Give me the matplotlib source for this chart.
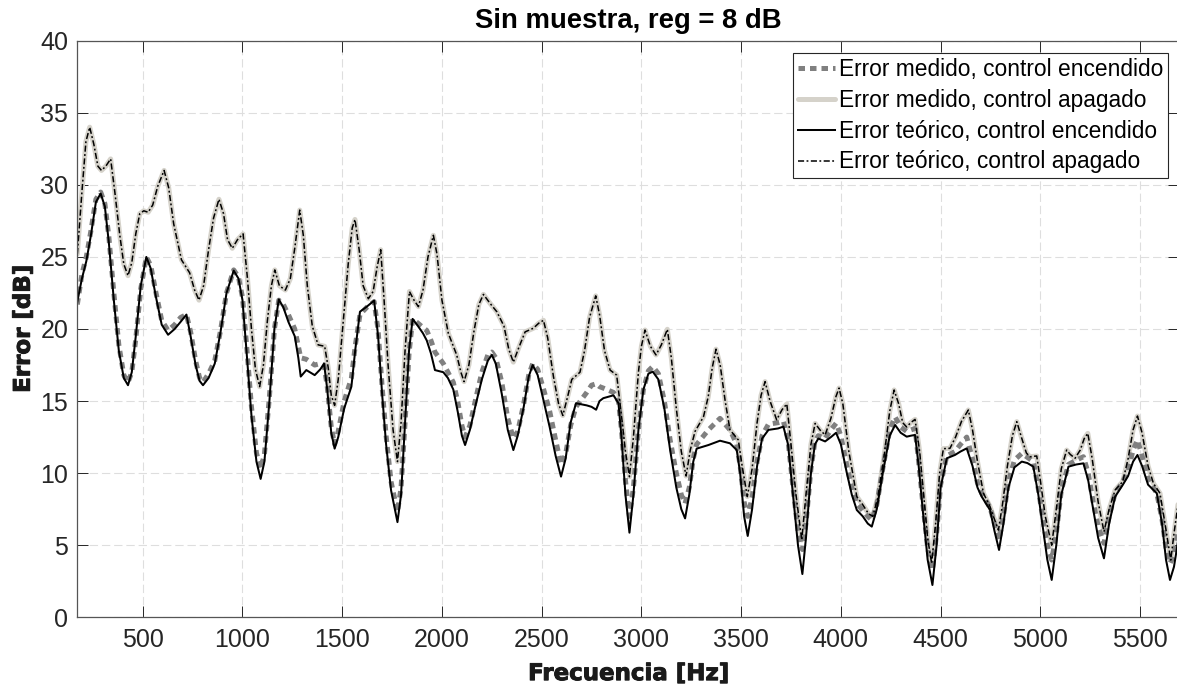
import numpy as np
import matplotlib
matplotlib.use("Agg")
import matplotlib.pyplot as plt
import matplotlib.patheffects as pe

plt.rcParams['font.family'] = ['Liberation Sans', 'DejaVu Sans']

# --- data ---
# control apagado: medido y teorico practically coincide
f_off = [172, 195, 215, 234, 255, 275, 293, 315, 339, 360, 385, 405, 426, 445, 465, 485,
         505, 527, 550, 575, 607, 630, 655, 694, 735, 760, 782, 805, 830, 855, 882, 905,
         925, 949, 975, 1003, 1025, 1045, 1065, 1086, 1105, 1125, 1145, 1162, 1185, 1215,
         1240, 1262, 1287, 1305, 1325, 1350, 1379, 1412, 1430, 1445, 1462, 1480, 1505, 1530,
         1550, 1564, 1585, 1605, 1631, 1655, 1675, 1693, 1710, 1730, 1755, 1777, 1795, 1815,
         1837, 1860, 1882, 1905, 1930, 1957, 1975, 2000, 2032, 2074, 2095, 2111, 2135, 2160,
         2185, 2208, 2240, 2275, 2311, 2335, 2358, 2385, 2417, 2458, 2485, 2509, 2530, 2559,
         2585, 2606, 2630, 2651, 2692, 2715, 2740, 2771, 2790, 2815, 2843, 2876, 2900, 2920,
         2940, 2960, 2985, 3000, 3018, 3045, 3073, 3100, 3130, 3150, 3175, 3200, 3224, 3245,
         3269, 3311, 3335, 3355, 3374, 3395, 3420, 3444, 3486, 3505, 3531, 3555, 3580, 3600,
         3620, 3645, 3678, 3705, 3729, 3750, 3775, 3804, 3825, 3850, 3871, 3895, 3921, 3950,
         3975, 3991, 4010, 4040, 4080, 4110, 4138, 4160, 4185, 4215, 4245, 4267, 4290, 4310,
         4330, 4350, 4372, 4395, 4415, 4435, 4455, 4475, 4495, 4514, 4547, 4575, 4605, 4639,
         4660, 4685, 4715, 4748, 4770, 4790, 4810, 4835, 4860, 4882, 4905, 4930, 4948, 4982,
         5000, 5025, 5057, 5080, 5105, 5132, 5150, 5174, 5200, 5220, 5238, 5260, 5290, 5319,
         5345, 5375, 5413, 5440, 5465, 5487, 5510, 5540, 5567, 5600, 5625, 5654, 5670, 5685,
         5697]
err_off = [25.2, 29.5, 33.0, 34.0, 32.8, 31.3, 31.0, 31.3, 31.8, 29.5, 26.5, 24.5, 23.7, 24.6,
           26.6, 28.0, 28.2, 28.1, 28.6, 29.9, 31.0, 29.8, 27.3, 24.8, 23.9, 22.7, 22.0, 23.0,
           25.5, 27.7, 29.0, 28.0, 26.2, 25.6, 26.2, 26.6, 23.5, 20.0, 17.2, 16.0, 17.5, 20.6,
           23.0, 24.1, 23.0, 22.7, 23.5, 25.6, 28.25, 26.5, 23.0, 20.2, 18.9, 18.8, 17.3, 15.4,
           14.7, 16.5, 20.5, 24.5, 27.0, 27.6, 25.5, 23.0, 22.1, 22.6, 24.3, 25.5, 22.0, 17.5,
           13.0, 10.8, 13.5, 18.5, 22.6, 22.0, 21.55, 22.7, 25.0, 26.5, 25.2, 22.0, 19.7, 18.2,
           17.0, 16.35, 17.5, 19.8, 21.7, 22.4, 21.8, 21.2, 20.2, 18.6, 17.7, 18.7, 19.8, 20.05,
           20.4, 20.6, 19.4, 16.7, 14.8, 14.0, 15.3, 16.5, 17.0, 18.5, 20.8, 22.3, 21.0, 18.5,
           17.15, 16.8, 14.0, 11.5, 9.75, 12.5, 17.0, 18.8, 19.93, 18.8, 18.2, 18.9, 19.98, 18.0,
           14.5, 11.5, 9.8, 11.6, 12.9, 13.9, 15.3, 17.3, 18.6, 17.5, 15.0, 13.0, 12.3, 10.5,
           8.37, 10.3, 13.5, 15.4, 16.35, 15.0, 13.7, 14.4, 14.8, 12.0, 8.5, 5.36, 8.5, 12.0,
           13.45, 13.0, 12.65, 13.8, 15.3, 15.9, 14.8, 11.5, 8.37, 7.8, 7.2, 7.0, 8.3, 11.0,
           14.3, 15.77, 14.8, 13.5, 13.2, 13.5, 13.73, 11.5, 8.5, 5.5, 3.74, 6.5, 10.0, 11.7,
           11.72, 12.5, 13.6, 14.38, 13.0, 10.8, 8.6, 7.67, 6.8, 6.05, 7.8, 10.5, 12.6, 13.57,
           12.5, 11.4, 11.14, 11.19, 9.5, 7.0, 5.0, 7.5, 10.3, 11.6, 11.3, 11.03, 11.6, 12.4,
           12.76, 11.0, 8.0, 5.94, 7.5, 8.83, 9.41, 11.0, 13.0, 13.96, 12.8, 10.5, 9.29, 8.6,
           6.5, 3.97, 5.8, 7.3, 8.5]

# control encendido
f_on = [172, 195, 217, 240, 265, 289, 310, 330, 355, 380, 405, 426, 445, 465, 490, 518, 540,
        565, 595, 627, 660, 690, 719, 740, 765, 785, 802, 830, 861, 890, 920, 956, 980, 1000,
        1020, 1045, 1070, 1091, 1110, 1135, 1160, 1182, 1205, 1230, 1262, 1280, 1292, 1320,
        1362, 1390, 1409, 1425, 1445, 1462, 1480, 1510, 1546, 1565, 1589, 1623, 1660, 1680,
        1700, 1720, 1745, 1777, 1795, 1815, 1835, 1853, 1880, 1905, 1924, 1945, 1965, 2007,
        2030, 2057, 2080, 2100, 2116, 2140, 2170, 2200, 2230, 2250, 2270, 2300, 2330, 2358,
        2380, 2410, 2435, 2455, 2480, 2510, 2540, 2570, 2597, 2620, 2645, 2672, 2726, 2750,
        2773, 2790, 2809, 2860, 2885, 2900, 2920, 2940, 2960, 2985, 3010, 3035, 3057, 3085,
        3115, 3144, 3175, 3200, 3219, 3240, 3260, 3277, 3336, 3394, 3444, 3478, 3495, 3515,
        3533, 3555, 3580, 3605, 3637, 3685, 3712, 3735, 3760, 3785, 3807, 3825, 3850, 3870,
        3887, 3921, 3950, 3976, 4000, 4030, 4055, 4080, 4110, 4135, 4155, 4180, 4210, 4245,
        4272, 4300, 4330, 4352, 4372, 4390, 4410, 4435, 4459, 4480, 4500, 4531, 4572, 4600,
        4631, 4660, 4685, 4706, 4748, 4770, 4793, 4815, 4840, 4870, 4907, 4935, 4965, 4990,
        5015, 5035, 5057, 5080, 5105, 5141, 5180, 5216, 5240, 5265, 5290, 5319, 5345, 5375,
        5413, 5440, 5465, 5487, 5510, 5540, 5584, 5610, 5630, 5650, 5670, 5685, 5697]
err_teo_on = [21.9, 23.5, 24.7, 26.5, 28.8, 29.4, 28.5, 26.0, 22.0, 18.5, 16.6, 16.1, 17.0, 19.5,
              23.0, 25.0, 24.2, 22.3, 20.3, 19.6, 20.0, 20.5, 21.0, 19.5, 17.5, 16.4, 16.1, 16.6,
              17.6, 19.8, 22.5, 24.05, 23.5, 22.0, 18.5, 14.0, 10.8, 9.6, 10.8, 15.0, 20.0, 22.05,
              21.5, 20.5, 19.5, 18.0, 16.7, 17.15, 16.8, 17.2, 17.6, 15.8, 12.8, 11.7, 12.5, 14.5,
              16.0, 18.5, 21.2, 21.55, 21.97, 19.5, 15.5, 12.0, 8.8, 6.6, 8.5, 13.5, 18.5, 20.7,
              20.2, 19.7, 19.2, 18.3, 17.15, 17.0, 16.6, 15.8, 14.2, 12.6, 11.95, 13.0, 14.8, 16.5,
              17.8, 18.2, 17.6, 15.5, 13.0, 11.6, 12.6, 14.6, 16.7, 17.5, 16.8, 15.0, 13.2, 11.2,
              9.76, 11.0, 13.5, 14.85, 14.7, 14.6, 14.4, 15.0, 15.2, 15.4, 14.85, 12.5, 8.5, 5.87,
              8.5, 13.0, 15.8, 16.9, 17.04, 16.5, 14.5, 11.6, 9.0, 7.5, 6.86, 8.5, 10.8, 11.7,
              11.95, 12.25, 12.07, 11.6, 10.0, 7.0, 5.64, 7.5, 10.5, 12.4, 13.0, 13.1, 13.23, 12.0,
              8.5, 5.0, 3.0, 5.5, 10.0, 12.0, 12.4, 12.2, 12.5, 12.8, 12.0, 10.0, 8.5, 7.44, 7.0,
              6.5, 6.29, 7.5, 10.0, 12.6, 13.34, 12.8, 12.53, 12.6, 12.65, 10.5, 7.5, 4.0, 2.24,
              5.0, 9.0, 11.03, 11.26, 11.5, 11.72, 10.5, 9.0, 8.37, 7.44, 6.0, 4.67, 6.5, 9.0,
              10.4, 10.8, 10.7, 10.45, 8.5, 6.0, 4.0, 2.59, 5.0, 8.5, 10.45, 10.6, 10.68, 9.5, 7.5,
              5.5, 4.09, 6.5, 8.37, 9.18, 9.8, 10.8, 11.26, 10.5, 9.2, 8.6, 6.5, 4.0, 2.59, 3.5,
              4.8, 6.0]
err_med_on = [21.7, 23.8, 25.0, 26.8, 29.0, 29.5, 28.7, 26.4, 22.5, 18.9, 16.8, 16.3, 17.0, 19.3,
              22.8, 25.0, 24.4, 22.6, 20.6, 19.9, 20.3, 20.8, 21.0, 19.8, 17.8, 16.6, 16.3, 16.9,
              17.8, 19.9, 22.5, 24.1, 23.6, 22.2, 19.0, 14.6, 11.4, 10.3, 11.3, 15.3, 20.0, 22.0,
              21.7, 21.0, 20.0, 18.8, 18.0, 17.9, 17.5, 17.6, 17.5, 16.0, 13.2, 12.0, 12.9, 15.0,
              16.6, 18.8, 21.0, 21.5, 21.9, 19.9, 16.0, 12.6, 9.4, 7.3, 9.0, 13.5, 18.3, 20.7,
              20.4, 20.1, 19.9, 19.2, 18.4, 17.6, 17.0, 16.3, 14.9, 13.3, 12.5, 13.3, 15.2, 17.0,
              18.2, 18.4, 18.0, 16.3, 13.8, 12.4, 12.9, 14.8, 16.8, 17.6, 17.2, 15.8, 14.3, 12.3,
              10.6, 11.3, 13.3, 14.6, 15.6, 16.1, 16.2, 16.0, 15.9, 15.6, 15.0, 13.0, 9.5, 7.0,
              9.0, 13.0, 15.8, 17.1, 17.4, 16.9, 15.0, 12.3, 10.0, 8.5, 7.9, 9.0, 11.0, 12.0,
              13.0, 13.8, 13.0, 12.0, 10.5, 8.0, 7.0, 8.3, 10.8, 12.6, 13.4, 13.5, 13.6, 12.3,
              9.0, 6.0, 4.7, 6.5, 10.3, 12.2, 12.6, 12.4, 13.0, 13.46, 12.6, 10.5, 9.0, 7.9, 7.4,
              7.0, 6.75, 7.8, 10.3, 13.0, 13.9, 13.2, 12.9, 13.0, 13.1, 10.8, 8.0, 4.8, 3.28,
              5.8, 9.2, 11.2, 11.5, 12.0, 12.5, 11.0, 9.3, 8.6, 7.6, 6.5, 5.36, 7.0, 9.4,
              10.9, 11.37, 11.1, 10.8, 8.9, 6.6, 5.0, 3.97, 5.8, 8.8, 10.6, 10.9, 11.14, 10.0, 8.0,
              6.3, 5.13, 7.0, 8.6, 9.4, 10.2, 11.6, 12.3, 11.2, 9.6, 8.6, 6.8, 4.8, 3.74, 4.3,
              5.5, 6.8]

labels = ['Error medido, control encendido', 'Error medido, control apagado',
          'Error teórico, control encendido', 'Error teórico, control apagado']
xticks = np.arange(500, 5501, 500)
yticks = np.arange(0, 41, 5)

fig = plt.figure(figsize=(11.77, 6.89), dpi=100)
ax = fig.add_axes([0.0657, 0.1041, 0.9363, 0.8368])

l2, = ax.plot(f_off, err_off, color='#d5d2ca', lw=3.6, solid_capstyle='round')
l1, = ax.plot(f_on, err_med_on, color='#808080', lw=3.6, linestyle=(0, (1.3, 1.0)),
              dash_capstyle='butt')
l3, = ax.plot(f_on, err_teo_on, color='black', lw=1.45)
l4, = ax.plot(f_off, err_off, color='black', lw=1.1, linestyle=(0, (4, 1.6, 1.2, 1.6)))

ax.set_xlim(172, 5697)
ax.set_ylim(0, 40)
ax.set_xticks(xticks)
ax.set_yticks(yticks)
ax.set_axisbelow(True)
ax.grid(True, color='#dedede', linestyle=(0, (7.5, 3.5)), linewidth=0.8)

ax.tick_params(direction='in', top=True, right=True, length=8, width=0.7,
               colors='#262626', labelsize=18)
ax.tick_params(axis='x', pad=8)
ax.tick_params(axis='y', pad=6.5)
for s in ax.spines.values():
    s.set_color('#555555')
    s.set_linewidth(0.9)

# heavy axis labels (look like a black weight in the original)
heavy = [pe.withStroke(linewidth=0.7, foreground='#1a1a1a')]
ax.set_title('Sin muestra, reg = 8 dB', fontsize=19.8, fontweight='bold', pad=9)
ax.set_xlabel('Frecuencia [Hz]', fontsize=16.5, fontweight='bold', labelpad=7,
              family='DejaVu Sans', color='#1a1a1a', path_effects=heavy)
ax.set_ylabel('Error [dB]', fontsize=16.5, fontweight='bold', labelpad=4,
              family='DejaVu Sans', color='#1a1a1a', path_effects=heavy)

leg = ax.legend([l1, l2, l3, l4], labels, loc='upper right',
                bbox_to_anchor=(0.9897, 0.9787), borderaxespad=0, fontsize=16.4,
                handlelength=1.65, handletextpad=0.17, labelspacing=0.35,
                borderpad=0.2, fancybox=False, framealpha=1, edgecolor='#262626')
leg.get_frame().set_linewidth(0.8)

fig.savefig('out.png', dpi=100)
